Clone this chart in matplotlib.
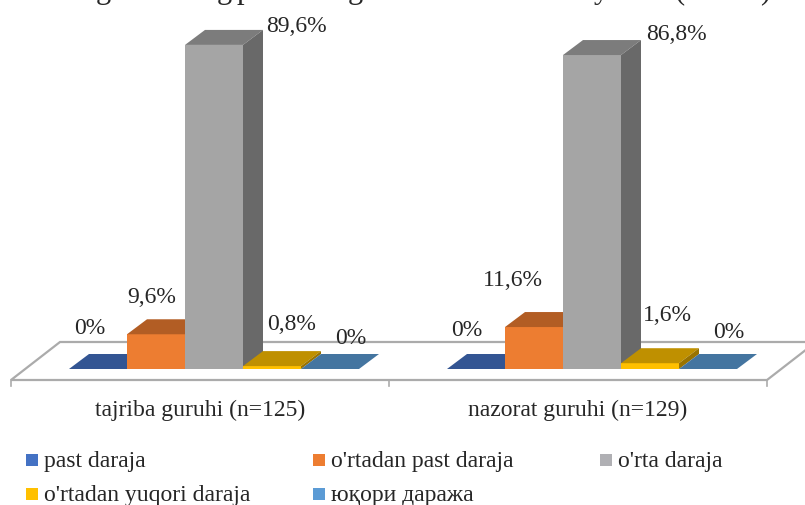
from matplotlib import pyplot as plt
from matplotlib.patches import Polygon, Rectangle

plt.rcParams['font.family'] = ['Liberation Serif', 'DejaVu Serif']

categories = ['tajriba guruhi (n=125)', 'nazorat guruhi (n=129)']
series_names = ["past daraja", "o'rtadan past daraja", "o'rta daraja",
                "o'rtadan yuqori daraja", "юқори даража"]
values = [[0, 0], [9.6, 11.6], [89.6, 86.8], [0.8, 1.6], [0, 0]]
value_labels = [['0%', '0%'], ['9,6%', '11,6%'], ['89,6%', '86,8%'],
                ['0,8%', '1,6%'], ['0%', '0%']]

# only the descenders of the title survive at the top of the picture
title_glyphs = ['g', 'g', 'p', 'g', 'y', '(', ')']
title_x = [103, 224, 244, 355, 601, 680, 765]

front_colors = ['#4472C4', '#ED7D31', '#A5A5A5', '#FFC000', '#5B9BD5']
top_colors = ['#335593', '#B25D24', '#7C7C7C', '#BF9000', '#4475A0']
side_colors = ['#2A4779', '#8E4A1D', '#696969', '#997300', '#385E80']
legend_colors = ['#4472C4', '#ED7D31', '#B0B0B4', '#FFC000', '#5B9BD5']

W, H = 805, 505
CAT_PX = 378.0     # width of one category
PCT_PX = 3.617     # pixels per percent
X0 = 11.0          # left end of the front floor edge
Y0 = 369.0         # bar base
BAR = 58.0 / CAT_PX
DX = 20.0 / CAT_PX
DY = 15.0 / PCT_PX

fig = plt.figure(figsize=(W / 100, H / 100), dpi=100)
ax = fig.add_axes([0, 0, 1, 1])
ax.set_xlim(-X0 / CAT_PX, (W - X0) / CAT_PX)
ax.set_ylim(-(H - Y0) / PCT_PX, Y0 / PCT_PX)
ax.axis('off')

# floor
fl = -11.0 / PCT_PX
bk = 27.0 / PCT_PX
skew = 49.0 / CAT_PX
ax.add_patch(Polygon([(0, fl), (2, fl), (2 + skew, bk), (skew, bk)], closed=True,
                     facecolor='white', edgecolor='#ABABAB', linewidth=1.6, zorder=1))
for t in [0, 1, 2]:
    ax.plot([t, t], [fl, fl - 6 / PCT_PX], color='#ABABAB', linewidth=1.2, zorder=1)

# bars
for s, name in enumerate(series_names):
    for c in range(2):
        left = c + 58.0 / CAT_PX + s * BAR
        h = values[s][c]
        if h > 0:
            ax.bar(left, h, width=BAR, align='edge', color=front_colors[s], zorder=3 + s)
        ax.add_patch(Polygon([(left, h), (left + BAR, h), (left + BAR + DX, h + DY), (left + DX, h + DY)],
                             closed=True, facecolor=top_colors[s], edgecolor='none', zorder=3 + s))
        if h > 0:
            ax.add_patch(Polygon([(left + BAR, 0), (left + BAR + DX, DY), (left + BAR + DX, h + DY), (left + BAR, h)],
                                 closed=True, facecolor=side_colors[s], edgecolor='none', zorder=3 + s))

# value labels, offsets in pixels from the bar's front top left corner
label_off = [[(21, 40), (20, 38)], [(25, 37), (8, 47)], [(111, 18), (113, 21)],
             [(49, 42), (46, 48)], [(50, 30), (50, 37)]]
for s in range(5):
    for c in range(2):
        left = c + 58.0 / CAT_PX + s * BAR
        ax.annotate(value_labels[s][c], (left, values[s][c]), xytext=label_off[s][c],
                    textcoords='offset pixels', ha='center', va='center',
                    fontsize=17, color='#262626', zorder=20)

for c, cat in enumerate(categories):
    ax.text(c + 0.5, -(410 - Y0) / PCT_PX, cat, ha='center', va='center', fontsize=17, color='#262626')

# title remains, cut off by the top edge
for g, px in zip(title_glyphs, title_x):
    ax.text((px - X0) / CAT_PX, (Y0 + 2) / PCT_PX, g, ha='center', va='baseline',
            fontsize=22, color='#262626', clip_on=False)

# legend
leg_x = [26, 313, 600, 26, 313]
leg_y = [460, 460, 460, 494, 494]
leg_base = [467, 467, 467, 501, 501]
for s, name in enumerate(series_names):
    px, py = leg_x[s], leg_y[s]
    ax.add_patch(Rectangle(((px - X0) / CAT_PX, (Y0 - py - 6) / PCT_PX), 12 / CAT_PX, 12 / PCT_PX,
                           facecolor=legend_colors[s], edgecolor='none'))
    ax.text((px + 18 - X0) / CAT_PX, (Y0 - leg_base[s]) / PCT_PX, name, ha='left', va='baseline',
            fontsize=17, color='#262626')

fig.savefig('out.png', dpi=100)
